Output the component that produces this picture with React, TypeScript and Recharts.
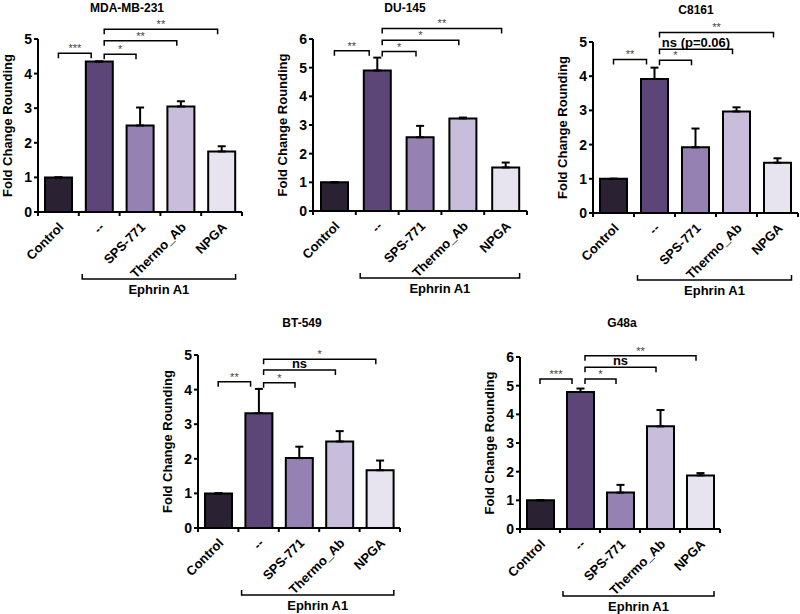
import React from 'react';
import { Bar, BarChart, Cell, ErrorBar, Label, ReferenceLine, XAxis, YAxis } from 'recharts';

const categories = ['Control', '--', 'SPS-771', 'Thermo_Ab', 'NPGA'];
const barColors = ['#2a2133', '#5b4677', '#9582b3', '#c8bddb', '#e7e3ef'];

const mdaMeans = [1, 4.35, 2.5, 3.05, 1.75];
const mdaErrors = [0, 0, 0.52, 0.15, 0.15];
const duMeans = [1, 4.9, 2.57, 3.23, 1.52];
const duErrors = [0, 0.45, 0.4, 0.03, 0.17];
const c8161Means = [1, 3.92, 1.92, 2.97, 1.47];
const c8161Errors = [0, 0.33, 0.55, 0.12, 0.13];
const btMeans = [1, 3.32, 2.02, 2.5, 1.67];
const btErrors = [0, 0.7, 0.33, 0.3, 0.28];
const g48Means = [1, 4.78, 1.27, 3.58, 1.87];
const g48Errors = [0, 0.12, 0.27, 0.57, 0.08];

const mdaBrackets = [
  { from: 'Control', to: '--', y: 4.59, label: '***' },
  { from: '--', to: 'SPS-771', y: 4.56, label: '*' },
  { from: '--', to: 'Thermo_Ab', y: 4.95, label: '**' },
  { from: '--', to: 'NPGA', y: 5.28, label: '**' },
];
const duBrackets = [
  { from: 'Control', to: '--', y: 5.59, label: '**' },
  { from: '--', to: 'SPS-771', y: 5.56, label: '*' },
  { from: '--', to: 'Thermo_Ab', y: 5.96, label: '*' },
  { from: '--', to: 'NPGA', y: 6.37, label: '**' },
];
const c8161Brackets = [
  { from: 'Control', to: '--', y: 4.49, label: '**' },
  { from: '--', to: 'SPS-771', y: 4.47, label: '*' },
  { from: '--', to: 'Thermo_Ab', y: 4.79, label: 'ns (p=0.06)' },
  { from: '--', to: 'NPGA', y: 5.28, label: '**' },
];
const btBrackets = [
  { from: 'Control', to: '--', y: 4.23, label: '**' },
  { from: '--', to: 'SPS-771', y: 4.2, label: '*' },
  { from: '--', to: 'Thermo_Ab', y: 4.57, label: 'ns' },
  { from: '--', to: 'NPGA', y: 4.88, label: '*' },
];
const g48Brackets = [
  { from: 'Control', to: '--', y: 5.23, label: '***' },
  { from: '--', to: 'SPS-771', y: 5.23, label: '*' },
  { from: '--', to: 'Thermo_Ab', y: 5.64, label: 'ns' },
  { from: '--', to: 'NPGA', y: 6.04, label: '**' },
];

const groupLabel = 'Ephrin A1';
const yLabel = 'Fold Change Rounding';
const font = '"Liberation Sans", Arial, sans-serif';

const buildRows = (means: number[], errors: number[]) =>
  categories.map((name, i) => ({ name, value: means[i], err: [0, errors[i]] }));

function Bracket(props: any) {
  const { x1, x2, y1, label, left, right } = props;
  const a = x1 + left;
  const b = x2 - right;
  const stars = label.startsWith('*');
  return (
    <g>
      <path d={`M${a},${y1 + 5}V${y1}H${b}V${y1 + 5}`} fill="none" stroke="#000" strokeWidth={1.5} />
      <text
        x={(a + b) / 2}
        y={stars ? y1 - 1 : y1 - 2}
        textAnchor="middle"
        fontFamily={font}
        fontSize={stars ? 11 : 13}
        fontWeight={stars ? 'normal' : 'bold'}
        fill={stars ? '#444' : '#000'}
      >
        {label}
      </text>
    </g>
  );
}

function GroupBracket(props: any) {
  const { x1, x2, y1 } = props;
  const a = x1 - 17;
  const b = x2 + 14;
  const yy = y1 + 67;
  return (
    <g>
      <path d={`M${a},${yy - 5}V${yy}H${b}V${yy - 5}`} fill="none" stroke="#000" strokeWidth={1.5} />
      <text x={(a + b) / 2} y={yy + 15} textAnchor="middle" fontFamily={font} fontSize={13} fontWeight="bold" fill="#000">
        {groupLabel}
      </text>
    </g>
  );
}

function XTick(props: any) {
  const { x, y, payload, index } = props;
  const off = payload.offset ?? 20;
  const tx = x + 6;
  const ty = y + 16;
  return (
    <g>
      <line x1={x - off} y1={y} x2={x - off} y2={y + 4} stroke="#000" strokeWidth={2} />
      {index === categories.length - 1 && (
        <line x1={x + off} y1={y} x2={x + off} y2={y + 4} stroke="#000" strokeWidth={2} />
      )}
      <text
        x={tx}
        y={ty}
        transform={`rotate(-45 ${tx} ${ty})`}
        textAnchor="end"
        fontFamily={font}
        fontSize={13}
        fontWeight="bold"
        fill="#000"
      >
        {payload.value}
      </text>
    </g>
  );
}

function YTitle(props: any) {
  const vb = props.viewBox;
  const cx = vb.x + vb.width - 31;
  const cy = vb.y + vb.height / 2;
  return (
    <text
      x={cx}
      y={cy}
      transform={`rotate(-90 ${cx} ${cy})`}
      textAnchor="middle"
      dominantBaseline="central"
      fontFamily={font}
      fontSize={13}
      fontWeight="bold"
      fill="#000"
    >
      {yLabel}
    </text>
  );
}

type PanelProps = {
  title: string;
  means: number[];
  errors: number[];
  brackets: { from: string; to: string; y: number; label: string }[];
  yMax: number;
  left: number;
  top: number;
  width: number;
  height: number;
  axisWidth: number;
  marginTop: number;
  marginRight: number;
  axisHeight: number;
  titleX: number;
  titleY: number;
};

function Panel(p: PanelProps) {
  const rows = buildRows(p.means, p.errors);
  const ticks = Array.from({ length: p.yMax + 1 }, (_, i) => i);
  return (
    <>
      <div
        style={{
          position: 'absolute',
          left: p.titleX - 60,
          top: p.titleY - 8,
          width: 120,
          textAlign: 'center',
          fontFamily: font,
          fontWeight: 'bold',
          fontSize: 12,
          lineHeight: '16px',
          zIndex: 2,
        }}
      >
        {p.title}
      </div>
      <div style={{ position: 'absolute', left: p.left, top: p.top }}>
        <BarChart
          width={p.width}
          height={p.height}
          data={rows}
          margin={{ top: p.marginTop, right: p.marginRight, bottom: 0, left: 0 }}
        >
          <XAxis
            dataKey="name"
            height={p.axisHeight}
            axisLine={{ stroke: '#000', strokeWidth: 2 }}
            tickLine={false}
            tickSize={0}
            tickMargin={0}
            interval={0}
            tick={<XTick />}
          />
          <YAxis
            width={p.axisWidth}
            domain={[0, p.yMax]}
            ticks={ticks}
            allowDataOverflow
            axisLine={{ stroke: '#000', strokeWidth: 2 }}
            tickLine={{ stroke: '#000', strokeWidth: 2 }}
            tickSize={4}
            tickMargin={2}
            tick={{ fill: '#000', fontSize: 14, fontWeight: 'bold', fontFamily: font }}
          >
            <Label content={<YTitle />} />
          </YAxis>
          <Bar dataKey="value" barSize={27} stroke="#000" strokeWidth={2} isAnimationActive={false}>
            {rows.map((r, i) => (
              <Cell key={r.name} fill={barColors[i]} />
            ))}
            <ErrorBar dataKey="err" width={4} strokeWidth={2} stroke="#000" direction="y" />
          </Bar>
          {p.brackets.map((b) => (
            <ReferenceLine
              key={b.from + b.to}
              segment={[{ x: b.from, y: b.y }, { x: b.to, y: b.y }]}
              ifOverflow="visible"
              shape={(sp: any) => (
                <Bracket
                  {...sp}
                  label={b.label}
                  left={b.from === 'Control' ? 0 : 5}
                  right={b.from === 'Control' ? 8 : 4}
                />
              )}
            />
          ))}
          <ReferenceLine
            segment={[{ x: '--', y: 0 }, { x: 'NPGA', y: 0 }]}
            ifOverflow="visible"
            shape={(sp: any) => <GroupBracket {...sp} />}
          />
        </BarChart>
      </div>
    </>
  );
}

export default function App() {
  return (
    <div style={{ position: 'absolute', left: 0, top: 0, width: 800, height: 614, background: '#fff', overflow: 'hidden' }}>
      <Panel title="MDA-MB-231" means={mdaMeans} errors={mdaErrors} brackets={mdaBrackets} yMax={5}
        left={0} top={0} width={260} height={300} axisWidth={38} marginTop={39} marginRight={18} axisHeight={88}
        titleX={127} titleY={8} />
      <Panel title="DU-145" means={duMeans} errors={duErrors} brackets={duBrackets} yMax={6}
        left={270} top={0} width={270} height={300} axisWidth={43} marginTop={39} marginRight={13} axisHeight={89}
        titleX={405} titleY={8} />
      <Panel title="C8161" means={c8161Means} errors={c8161Errors} brackets={c8161Brackets} yMax={5}
        left={540} top={0} width={260} height={300} axisWidth={53} marginTop={42} marginRight={2} axisHeight={87}
        titleX={696} titleY={10} />
      <Panel title="BT-549" means={btMeans} errors={btErrors} brackets={btBrackets} yMax={5}
        left={150} top={300} width={260} height={314} axisWidth={48} marginTop={55} marginRight={10} axisHeight={86}
        titleX={302} titleY={323} />
      <Panel title="G48a" means={g48Means} errors={g48Errors} brackets={g48Brackets} yMax={6}
        left={450} top={300} width={280} height={314} axisWidth={70} marginTop={57} marginRight={10} axisHeight={85}
        titleX={622} titleY={323} />
    </div>
  );
}
